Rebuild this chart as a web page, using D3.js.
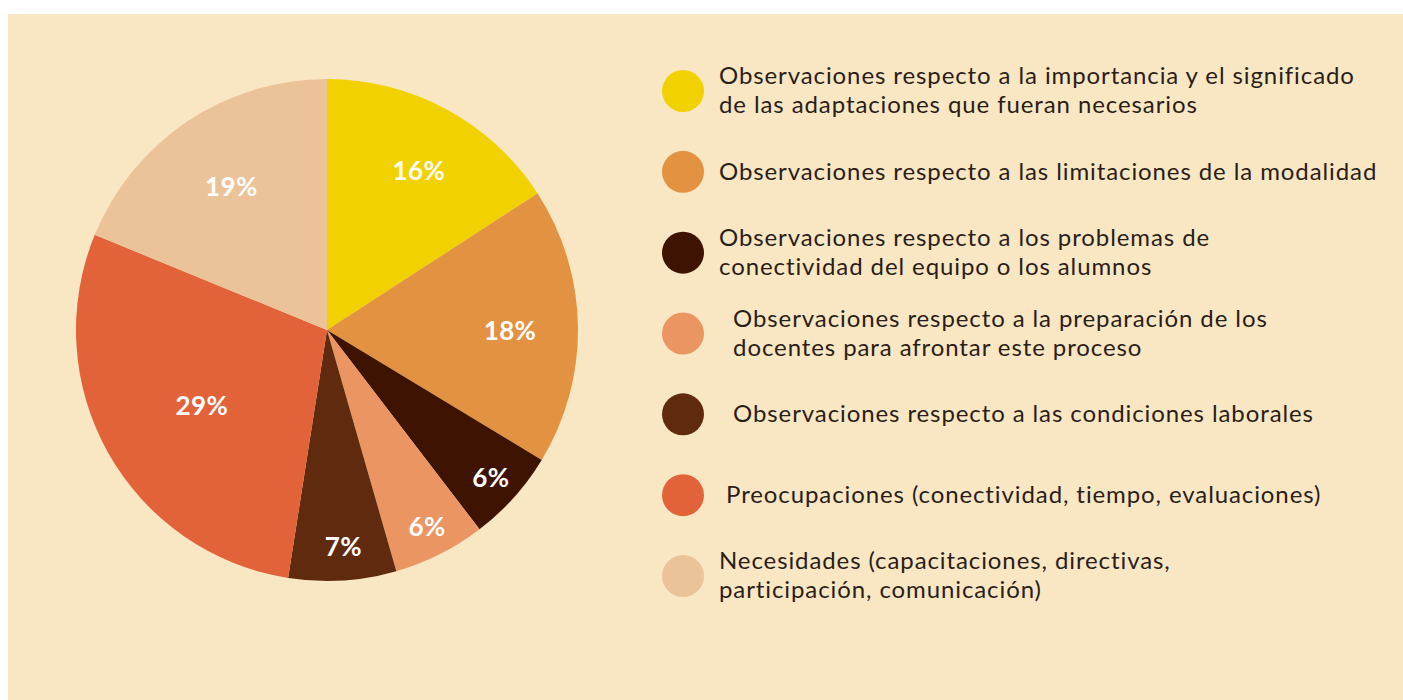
<!DOCTYPE html>
<html lang="es">
<head>
<meta charset="utf-8">
<title>D3: pie</title>
<script src="https://cdn.jsdelivr.net/npm/d3@7"></script>
<style>
  body { margin: 0; background: #fff; }
  svg { display: block; }
  .legend text {
    font-family: Lato, sans-serif;
    font-size: 24px;
    letter-spacing: 0.9px;
    fill: #2b1d17;
    white-space: pre;
  }
  .pct {
    font-family: Lato, sans-serif;
    font-weight: bold;
    font-size: 26px;
    letter-spacing: 0.4px;
    fill: #fff;
  }
</style>
</head>
<body>
<script>
  var w = 1403;
  var h = 700;

  // data
  var categories = [
    ["Observaciones respecto a la importancia y el significado", "de las adaptaciones que fueran necesarios"],
    ["Observaciones respecto a las limitaciones de la modalidad"],
    ["Observaciones respecto a los problemas de", "conectividad del equipo o los alumnos"],
    ["  Observaciones respecto a la preparación de los", "  docentes para afrontar este proceso"],
    ["  Observaciones respecto a las condiciones laborales"],
    [" Preocupaciones (conectividad, tiempo, evaluaciones)"],
    ["Necesidades (capacitaciones, directivas,", "participación, comunicación)"]
  ];
  var values = [16, 18, 6, 6, 7, 29, 19];
  var colors = ["#f2d100", "#e29240", "#3e1300", "#eb9563", "#602a0e", "#e2633a", "#ecc298"];

  var cx = 327, cy = 330, r = 251;

  var svg = d3.select("body").append("svg")
    .attr("width", w)
    .attr("height", h);

  svg.append("rect")
    .attr("x", 8).attr("y", 14)
    .attr("width", w - 8).attr("height", h - 14)
    .attr("fill", "#f9e7c4");

  var pie = d3.pie().sort(null).value(function(d) { return d; });
  var arcs = pie(values);

  var arc = d3.arc().innerRadius(0).outerRadius(r);

  var g = svg.append("g").attr("transform", "translate(" + cx + "," + cy + ")");

  g.selectAll("path")
    .data(arcs)
    .enter()
    .append("path")
    .attr("d", arc)
    .attr("fill", function(d, i) { return colors[i]; });

  // small slices get their label pushed further out
  g.selectAll("text")
    .data(arcs)
    .enter()
    .append("text")
    .attr("class", "pct")
    .attr("text-anchor", "middle")
    .attr("dy", "0.35em")
    .attr("transform", function(d) {
      var lr = 234 - 3 * d.data;
      var c = d3.arc().innerRadius(lr).outerRadius(lr).centroid(d);
      return "translate(" + (c[0] + 3) + "," + (c[1] + 4) + ")";
    })
    .text(function(d) { return d.data + "%"; });

  // legend
  var yScale = d3.scalePoint()
    .domain(d3.range(categories.length))
    .range([91, 576]);

  var leg = svg.append("g").attr("class", "legend");

  var row = leg.selectAll("g")
    .data(categories)
    .enter()
    .append("g")
    .attr("transform", function(d, i) { return "translate(0," + yScale(i) + ")"; });

  row.append("circle")
    .attr("cx", 683)
    .attr("cy", 0)
    .attr("r", 21)
    .attr("fill", function(d, i) { return colors[i]; });

  row.append("text")
    .attr("x", 719)
    .attr("y", function(d) { return d.length > 1 ? -7 : 8; })
    .selectAll("tspan")
    .data(function(d) { return d; })
    .enter()
    .append("tspan")
    .attr("x", 719)
    .attr("dy", function(d, i) { return i ? 29 : 0; })
    .text(function(d) { return d; });
</script>
</body>
</html>
